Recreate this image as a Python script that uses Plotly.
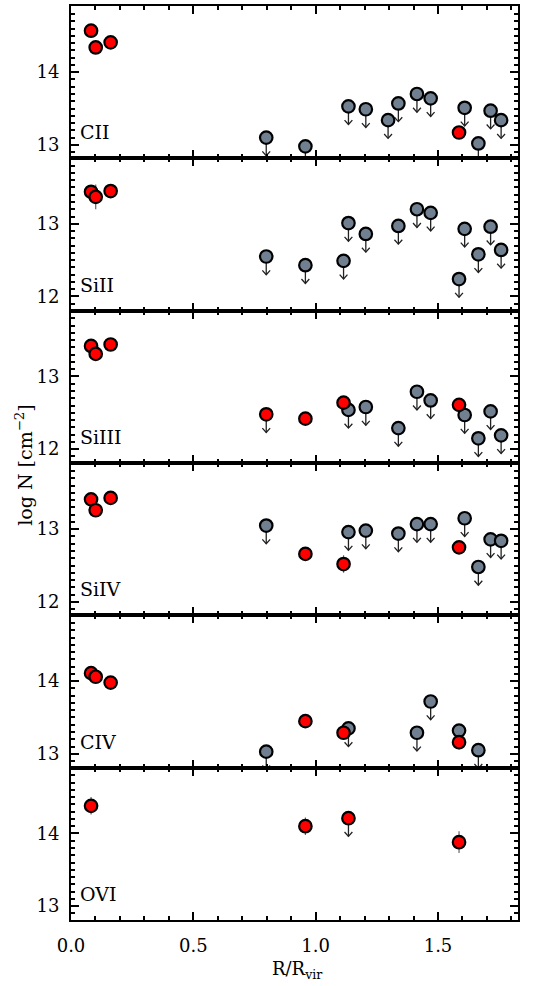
import plotly.graph_objects as go
from plotly.subplots import make_subplots

# ---------------- data ----------------
ions = ["CII", "SiII", "SiIII", "SiIV", "CIV", "OVI"]

# detections (red)
cii_det_r = [0.082, 0.101, 0.162, 1.586]
cii_det_n = [14.57, 14.34, 14.41, 13.17]
cii_det_e = [0.05, 0.05, 0.05, 0.06]
# upper limits (gray)
cii_lim_r = [0.798, 0.958, 1.134, 1.205, 1.296, 1.338, 1.414, 1.470, 1.609, 1.665, 1.715, 1.758]
cii_lim_n = [13.10, 12.98, 13.53, 13.49, 13.34, 13.57, 13.70, 13.64, 13.51, 13.02, 13.47, 13.34]
cii_rlim_r = []
cii_rlim_n = []

sii_det_r = [0.082, 0.101, 0.162]
sii_det_n = [13.44, 13.37, 13.45]
sii_det_e = [0.05, 0.17, 0.05]
sii_lim_r = [0.798, 0.958, 1.114, 1.134, 1.205, 1.338, 1.414, 1.470, 1.586, 1.609, 1.665, 1.715, 1.758]
sii_lim_n = [12.55, 12.43, 12.49, 13.01, 12.86, 12.97, 13.20, 13.15, 12.24, 12.93, 12.58, 12.96, 12.64]
sii_rlim_r = []
sii_rlim_n = []

siiii_det_r = [0.082, 0.101, 0.162, 0.958, 1.114, 1.586]
siiii_det_n = [13.42, 13.31, 13.44, 12.42, 12.64, 12.61]
siiii_det_e = [0.05, 0.05, 0.05, 0.05, 0.05, 0.05]
siiii_lim_r = [1.134, 1.205, 1.338, 1.414, 1.470, 1.609, 1.665, 1.715, 1.758]
siiii_lim_n = [12.54, 12.58, 12.29, 12.79, 12.67, 12.47, 12.15, 12.52, 12.19]
siiii_rlim_r = [0.798]
siiii_rlim_n = [12.48]

siiv_det_r = [0.082, 0.101, 0.162, 0.958, 1.114, 1.586]
siiv_det_n = [13.41, 13.26, 13.43, 12.66, 12.52, 12.75]
siiv_det_e = [0.05, 0.05, 0.05, 0.05, 0.12, 0.05]
siiv_lim_r = [0.798, 1.134, 1.205, 1.338, 1.414, 1.470, 1.609, 1.665, 1.715, 1.758]
siiv_lim_n = [13.05, 12.96, 12.98, 12.94, 13.07, 13.07, 13.15, 12.48, 12.86, 12.84]
siiv_rlim_r = []
siiv_rlim_n = []

civ_det_r = [0.082, 0.101, 0.162, 0.958, 1.114, 1.586]
civ_det_n = [14.11, 14.06, 13.98, 13.45, 13.29, 13.16]
civ_det_e = [0.05, 0.05, 0.05, 0.05, 0.05, 0.05]
civ_lim_r = [0.798, 1.134, 1.414, 1.470, 1.586, 1.665]
civ_lim_n = [13.03, 13.35, 13.29, 13.72, 13.32, 13.05]
civ_rlim_r = []
civ_rlim_n = []

ovi_det_r = [0.082, 0.958, 1.586]
ovi_det_n = [14.38, 14.10, 13.88]
ovi_det_e = [0.12, 0.12, 0.15]
ovi_lim_r = []
ovi_lim_n = []
ovi_rlim_r = [1.134]
ovi_rlim_n = [14.21]

y_ranges = [[12.815, 14.91], [11.805, 13.90], [11.81, 13.905],
            [11.815, 13.91], [12.81, 14.905], [12.81, 14.905]]
x_range = [0.0, 1.827]

panels = [
    (cii_det_r, cii_det_n, cii_det_e, cii_lim_r, cii_lim_n, cii_rlim_r, cii_rlim_n),
    (sii_det_r, sii_det_n, sii_det_e, sii_lim_r, sii_lim_n, sii_rlim_r, sii_rlim_n),
    (siiii_det_r, siiii_det_n, siiii_det_e, siiii_lim_r, siiii_lim_n, siiii_rlim_r, siiii_rlim_n),
    (siiv_det_r, siiv_det_n, siiv_det_e, siiv_lim_r, siiv_lim_n, siiv_rlim_r, siiv_rlim_n),
    (civ_det_r, civ_det_n, civ_det_e, civ_lim_r, civ_lim_n, civ_rlim_r, civ_rlim_n),
    (ovi_det_r, ovi_det_n, ovi_det_e, ovi_lim_r, ovi_lim_n, ovi_rlim_r, ovi_rlim_n),
]

# ---------------- style ----------------
FONT = "DejaVu Serif"
RED = "#FF0000"
GRAY = "#708090"
ARROW_LEN = 0.25      # in log N units
HEAD_H = 0.06
HEAD_W = 0.016        # in R/Rvir units
MSIZE = 12.5
MLINE = 2.2

fig = make_subplots(rows=6, cols=1, shared_xaxes=True, vertical_spacing=0)

for i, (dr, dn, de, lr, ln, rr, rn) in enumerate(panels):
    row = i + 1
    # arrows for all upper limits
    ax, ay = [], []
    for x, y in list(zip(lr, ln)) + list(zip(rr, rn)):
        tip = y - ARROW_LEN
        ax += [x, x, None, x - HEAD_W, x, x + HEAD_W, None]
        ay += [y, tip, None, tip + HEAD_H, tip, tip + HEAD_H, None]
    if ax:
        fig.add_trace(go.Scatter(x=ax, y=ay, mode="lines",
                                 line=dict(color="#222222", width=1.3),
                                 hoverinfo="skip"), row=row, col=1)
    if lr:
        fig.add_trace(go.Scatter(x=lr, y=ln, mode="markers",
                                 marker=dict(size=MSIZE, color=GRAY,
                                             line=dict(color="black", width=MLINE))),
                      row=row, col=1)
    if dr:
        fig.add_trace(go.Scatter(x=dr, y=dn, mode="markers",
                                 error_y=dict(type="data", array=de, color="#666666",
                                              thickness=1.2, width=0),
                                 marker=dict(size=MSIZE, color=RED,
                                             line=dict(color="black", width=MLINE))),
                      row=row, col=1)
    if rr:
        fig.add_trace(go.Scatter(x=rr, y=rn, mode="markers",
                                 marker=dict(size=MSIZE, color=RED,
                                             line=dict(color="black", width=MLINE))),
                      row=row, col=1)

    fig.update_yaxes(range=y_ranges[i], dtick=1, tick0=0, automargin=False,
                     ticks="inside", ticklen=8, tickwidth=1.5, tickcolor="black",
                     minor=dict(dtick=0.1, ticks="inside", ticklen=4,
                                tickwidth=1.5, tickcolor="black"),
                     showline=True, linewidth=1.8, linecolor="black", mirror="allticks",
                     showgrid=False, zeroline=False,
                     ticklabelstandoff=6,
                     tickfont=dict(family=FONT, size=18, color="black"),
                     row=row, col=1)
    fig.update_xaxes(range=x_range, dtick=0.5, tick0=0, automargin=False,
                     ticks="inside", ticklen=8, tickwidth=1.5, tickcolor="black",
                     minor=dict(dtick=0.1, ticks="inside", ticklen=4,
                                tickwidth=1.5, tickcolor="black"),
                     showline=True, linewidth=1.8, linecolor="black", mirror="allticks",
                     showgrid=False, zeroline=False,
                     showticklabels=(row == 6), tickformat=".1f",
                     ticklabelstandoff=8,
                     tickfont=dict(family=FONT, size=18, color="black"),
                     row=row, col=1)

    yref = "y domain" if row == 1 else f"y{row} domain"
    fig.add_annotation(text=ions[i], xref="paper", yref=yref, x=0.016, y=0.17,
                       xanchor="left", yanchor="middle", showarrow=False,
                       font=dict(family=FONT, size=19, color="black"))

fig.add_annotation(text="log N [cm<sup>−2</sup>]", xref="paper", yref="paper",
                   x=-0.105, y=0.497, xanchor="center", yanchor="middle",
                   textangle=-90, showarrow=False,
                   font=dict(family=FONT, size=19, color="black"))
fig.add_annotation(text="R/R<sub>vir</sub>", xref="paper", yref="paper",
                   x=0.506, y=-0.055, xanchor="center", yanchor="middle",
                   showarrow=False,
                   font=dict(family=FONT, size=18, color="black"))

fig.update_layout(width=548, height=986, showlegend=False,
                  margin=dict(l=71, r=30, t=6, b=66, autoexpand=False),
                  paper_bgcolor="white", plot_bgcolor="white",
                  font=dict(family=FONT, color="black"))

fig.write_html("out.html", config={"displayModeBar": False},
               post_script="document.body.style.margin='0';document.body.style.overflow='hidden';")
